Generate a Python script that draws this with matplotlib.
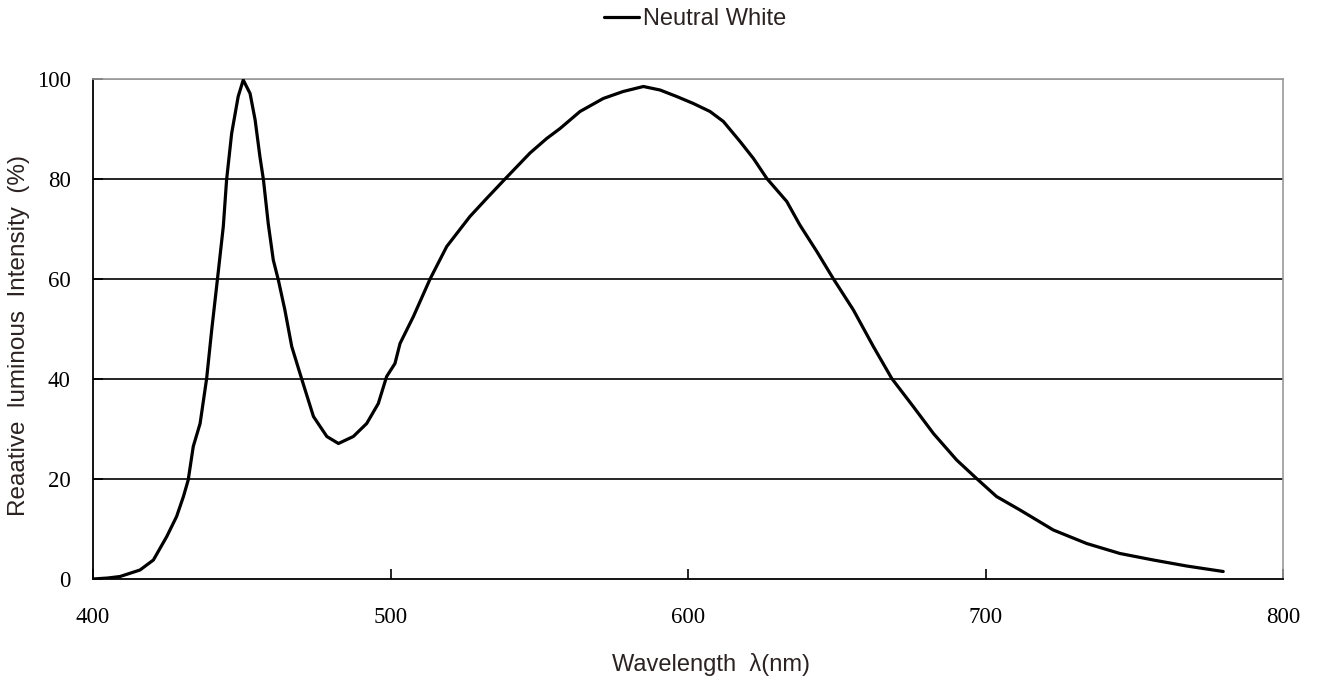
import matplotlib
matplotlib.use("Agg")
import matplotlib.pyplot as plt

wavelength = [400, 405, 409.1, 415.8, 420.3, 424.8, 428.1, 430.4, 432.0, 433.7, 436.0, 438.2,
              439.9, 441.8, 443.8, 444.9, 446.6, 448.8, 450.5, 452.8, 454.5, 456.1, 457.3,
              458.9, 460.6, 462.3, 464.5, 466.8, 470.1, 474.1, 478.6, 482.5, 487.5, 492.0,
              495.9, 498.7, 501.5, 503.2, 507.7, 513.3, 518.9, 526.7, 532.3, 538.5, 546.9,
              552.5, 557.0, 563.7, 571.5, 578.2, 585.0, 590.6, 596.2, 601.8, 607.4, 611.9,
              617.5, 622.0, 626.5, 633.2, 637.6, 643.3, 648.8, 655.6, 662.3, 668.5, 675.7,
              682.5, 690.3, 697.0, 703.7, 711.6, 722.8, 734.0, 745.2, 756.4, 767.6, 779.9]
intensity = [0.0, 0.2, 0.5, 1.8, 3.8, 8.5, 12.5, 16.5, 19.8, 26.5, 31.1, 40.1,
             49.8, 59.8, 70.5, 79.8, 89.1, 96.5, 99.8, 97.1, 91.8, 84.5, 79.8,
             71.1, 63.8, 59.8, 53.8, 46.5, 40.1, 32.5, 28.5, 27.1, 28.5, 31.1,
             35.1, 40.5, 43.1, 47.1, 52.5, 60.0, 66.5, 72.5, 76.1, 80.0, 85.2,
             88.1, 90.1, 93.5, 96.1, 97.5, 98.5, 97.8, 96.5, 95.1, 93.5, 91.5,
             87.5, 84.1, 80.1, 75.5, 70.8, 65.5, 60.1, 53.8, 46.5, 40.1, 34.5,
             29.1, 23.8, 20.1, 16.5, 13.8, 9.8, 7.1, 5.1, 3.8, 2.6, 1.5]
series_name = "Neutral White"
x_ticks = [400, 500, 600, 700, 800]
y_ticks = [0, 20, 40, 60, 80, 100]

W, H = 1318, 683
fig = plt.figure(figsize=(W / 100, H / 100), dpi=100)
ax = fig.add_axes([93 / W, 1 - 579 / H, 1190 / W, 500 / H])

ax.plot(wavelength, intensity, color="black", lw=2.3, label=series_name, zorder=3,
        solid_joinstyle="round", solid_capstyle="round")

ax.set_xlim(400, 800)
ax.set_ylim(0, 100)
ax.set_xticks(x_ticks)
ax.set_yticks(y_ticks)

for v in y_ticks[1:-1]:
    ax.axhline(v, color="black", lw=1.2, zorder=1)
ax.axhline(100, color="#999999", lw=1.2, zorder=1)

for s in ["left", "bottom"]:
    ax.spines[s].set_color("black")
    ax.spines[s].set_linewidth(1.3)
for s in ["top", "right"]:
    ax.spines[s].set_color("#999999")
    ax.spines[s].set_linewidth(1.2)

ax.tick_params(axis="both", direction="in", length=7, width=1.2, colors="black")
ax.tick_params(axis="x", pad=20)
ax.tick_params(axis="y", pad=16)
for lab in ax.get_xticklabels() + ax.get_yticklabels():
    lab.set_fontfamily("Liberation Serif")
    lab.set_fontsize(16.5)

label_color = "#2b2222"
fig.text(711 / W, 1 - 664 / H, "Wavelength  λ(nm)", fontsize=17, family="Liberation Sans",
         color=label_color, ha="center", va="center")
fig.text(19 / W, 1 - 335 / H, "Reaative  luminous  Intensity  (%)", fontsize=17.5,
         family="Liberation Sans", color=label_color, ha="center", va="center", rotation=90)

fig.legend(loc="center", bbox_to_anchor=(695 / W, 1 - 19 / H), frameon=False,
           prop={"family": "Liberation Sans", "size": 17}, handlelength=1.5,
           handletextpad=0.15, labelcolor=label_color)

fig.savefig("out.png", dpi=100)
